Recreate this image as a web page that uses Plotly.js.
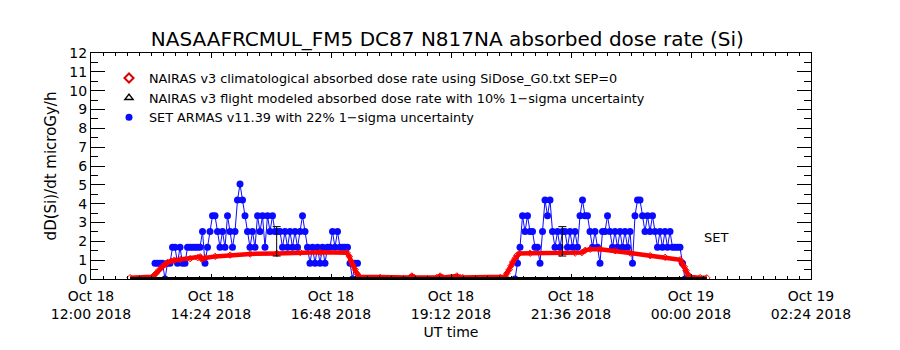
<!DOCTYPE html>
<html><head><meta charset="utf-8">
<script src="https://cdn.plot.ly/plotly-3.0.1.min.js"></script>
<style>html,body{margin:0;padding:0;background:#fff}#chart{width:900px;height:350px}</style>
</head><body><div id="chart"></div>
<script>
// ---------- DATA ----------
const chartTitle = 'NASAAFRCMUL_FM5 DC87 N817NA absorbed dose rate (Si)';
const xTitle = 'UT time';
const yTitle = 'dD(Si)/dt microGy/h';
const legendNames = [
  'NAIRAS v3 climatological absorbed dose rate using SiDose_G0.txt SEP=0',
  'NAIRAS v3 flight modeled absorbed dose rate with 10% 1\u2212sigma uncertainty',
  'SET ARMAS v11.39 with 22% 1\u2212sigma uncertainty'
];
const xRange = ['2018-10-18 12:00', '2018-10-19 02:24'];

// NAIRAS climatological (red diamonds)
const nairasClimTimes = [
  '2018-10-18 12:47','2018-10-18 13:13','2018-10-18 13:14','2018-10-18 13:18','2018-10-18 13:22',
  '2018-10-18 13:25','2018-10-18 13:29','2018-10-18 13:32','2018-10-18 13:36','2018-10-18 13:40',
  '2018-10-18 13:47','2018-10-18 13:59','2018-10-18 14:08','2018-10-18 14:11','2018-10-18 14:13',
  '2018-10-18 14:17','2018-10-18 14:29','2018-10-18 14:47','2018-10-18 15:11','2018-10-18 15:43',
  '2018-10-18 16:11','2018-10-18 16:35','2018-10-18 17:07','2018-10-18 17:10','2018-10-18 17:12',
  '2018-10-18 17:14','2018-10-18 17:17','2018-10-18 17:19','2018-10-18 17:22','2018-10-18 17:47',
  '2018-10-18 18:23','2018-10-18 18:25','2018-10-18 18:28','2018-10-18 18:55','2018-10-18 18:59',
  '2018-10-18 19:02','2018-10-18 19:19','2018-10-18 19:23','2018-10-18 19:26','2018-10-18 20:11',
  '2018-10-18 20:17','2018-10-18 20:19','2018-10-18 20:22','2018-10-18 20:24','2018-10-18 20:26',
  '2018-10-18 20:29','2018-10-18 20:31','2018-10-18 20:34','2018-10-18 20:47','2018-10-18 21:23',
  '2018-10-18 21:41','2018-10-18 21:49','2018-10-18 21:53','2018-10-18 21:59','2018-10-18 22:11',
  '2018-10-18 22:29','2018-10-18 22:47','2018-10-18 23:11','2018-10-18 23:29','2018-10-18 23:47',
  '2018-10-18 23:49','2018-10-18 23:52','2018-10-18 23:54','2018-10-18 23:56','2018-10-18 23:59',
  '2018-10-19 00:11','2018-10-19 00:19'
];
const nairasClimValues = [
  0.07,0.08,0.12,0.30,0.50,
  0.65,0.78,0.88,0.95,1.00,
  1.03,1.08,1.13,1.18,1.05,
  1.12,1.20,1.27,1.33,1.36,
  1.41,1.42,1.40,1.20,0.95,
  0.75,0.50,0.30,0.12,0.08,
  0.08,0.16,0.08,0.08,0.16,
  0.08,0.16,0.08,0.08,0.08,
  0.12,0.30,0.50,0.70,0.90,
  1.10,1.25,1.36,1.37,1.37,
  1.38,1.40,1.52,1.58,1.58,
  1.50,1.38,1.24,1.15,1.02,
  0.85,0.65,0.45,0.25,0.10,
  0.07,0.06
];

// NAIRAS flight modeled (black triangles) – all zero
const nairasFlightTimes = ['2018-10-18 12:47','2018-10-18 17:00','2018-10-18 21:00','2018-10-19 00:19'];
const nairasFlightValues = [0, 0, 0, 0];

// SET ARMAS (blue), 3-minute cadence, two flights
const armasCadenceMin = 3;
const armasStart1 = '2018-10-18T13:16:48';
const armasValues1 = [
  0.84,0.84,0.84,0.84,0,0.84,0.84,
  1.68,1.68,0.84,1.68,0.84,0.84,1.68,1.68,1.68,1.68,1.68,1.68,2.52,0.84,1.68,
  2.52,3.36,3.36,2.52,1.68,2.52,1.68,3.36,2.52,1.68,2.52,
  4.2,5.04,4.2,3.36,2.52,
  1.68,2.52,1.68,3.36,2.52,3.36,1.68,3.36,2.52,3.36,2.52,2.52,2.52,1.68,2.52,1.68,2.52,1.68,2.52,1.68,2.52,3.36,2.52,
  1.68,0.84,1.68,0.84,1.68,0.84,1.68,0.84,1.68,1.68,2.52,1.68,2.52,1.68,1.68,1.68,1.68,0.84,0,0.84,0.84
];
const armasStart2 = '2018-10-18T20:28:48';
const armasValues2 = [
  0,0.84,1.68,3.36,2.52,3.36,2.52,2.52,1.68,1.68,
  0.84,2.52,4.2,3.36,4.2,2.52,1.68,2.52,1.68,2.52,
  2.52,1.68,2.52,1.68,2.52,1.68,3.36,4.2,3.36,3.36,
  2.52,1.68,2.52,1.68,0.84,2.52,2.52,3.36,2.52,1.68,
  2.52,1.68,2.52,1.68,2.52,1.68,2.52,0.84,3.36,4.2,
  4.2,3.36,2.52,3.36,2.52,3.36,2.52,1.68,2.52,1.68,
  2.52,1.68,2.52,1.68,1.68,1.68,1.68,0.84,0
];

// sample 1-sigma error bars
const errTimes = ['2018-10-18 15:42:48', '2018-10-18 21:25:36'];
const errValues = [2.0, 2.0];
const errSigma = [0.78, 0.78];

// label
const setLabel = {text: 'SET', time: '2018-10-19 00:30', value: 2.18};

// ---------- BUILD ----------
function timesFrom(start, stepMin, n) {
  const t0 = Date.parse(start + 'Z');
  const out = [];
  for (let i = 0; i < n; i++) out.push(new Date(t0 + i * stepMin * 60000).toISOString().replace('T', ' ').slice(0, 19));
  return out;
}
const armasX = timesFrom(armasStart1, armasCadenceMin, armasValues1.length)
  .concat([null], timesFrom(armasStart2, armasCadenceMin, armasValues2.length));
const armasY = armasValues1.concat([null], armasValues2);

const FONT = 'DejaVu Sans, sans-serif';
const traces = [
  {x: armasX, y: armasY, type: 'scatter', mode: 'lines+markers', connectgaps: false, showlegend: false,
   line: {color: '#0a0aff', width: 1}, marker: {color: '#0a0aff', size: 7, symbol: 'circle'}},
  {x: nairasClimTimes, y: nairasClimValues, type: 'scatter', mode: 'lines+markers', showlegend: false,
   line: {color: '#ff0000', width: 4.5}, marker: {color: '#ff0000', size: 5, symbol: 'diamond-open', line: {width: 1}}},
  {x: nairasFlightTimes, y: nairasFlightValues, type: 'scatter', mode: 'lines', showlegend: false,
   line: {color: '#000000', width: 4}},
  {x: errTimes, y: errValues, type: 'scatter', mode: 'markers', showlegend: false,
   marker: {size: 1, color: 'rgba(0,0,0,0)'},
   error_y: {type: 'data', array: errSigma, visible: true, color: '#000', thickness: 1, width: 4}},
  // legend entries
  {x: [null], y: [null], type: 'scatter', mode: 'markers', name: legendNames[0], legendgroup: 'a',
   marker: {symbol: 'diamond-open', size: 7, color: '#dd0000', line: {width: 2}}},
  {x: [null], y: [null], type: 'scatter', mode: 'markers', name: legendNames[1], legendgroup: 'b',
   marker: {symbol: 'triangle-up-open', size: 7, color: '#000', line: {width: 1.5}}},
  {x: [null], y: [null], type: 'scatter', mode: 'markers', name: legendNames[2], legendgroup: 'c',
   marker: {symbol: 'circle', size: 7, color: '#0a0aff'}}
];

const layout = {
  width: 900, height: 350,
  margin: {l: 91, r: 89, t: 53, b: 71, pad: 0},
  paper_bgcolor: '#fff', plot_bgcolor: '#fff',
  font: {family: FONT, color: '#000', size: 13},
  title: {text: chartTitle, font: {family: FONT, size: 20, color: '#000'}, x: 0.497, xanchor: 'center', y: 0.89, yanchor: 'middle'},
  showlegend: true,
  legend: {x: 0.025, y: 0.955, xanchor: 'left', yanchor: 'top', bgcolor: 'rgba(0,0,0,0)', borderwidth: 0,
           font: {family: FONT, size: 12.8, color: '#000'}, tracegroupgap: 1, itemwidth: 30, traceorder: 'normal'},
  xaxis: {
    type: 'date', range: xRange, autorange: false,
    tick0: '2018-10-18 12:00', dtick: 8640000,
    tickformat: '%b %d<br>%H:%M %Y',
    ticks: 'inside', ticklen: 5, tickcolor: '#000', tickwidth: 1,
    minor: {dtick: 864000, tick0: '2018-10-18 12:00', ticks: 'inside', ticklen: 3, tickcolor: '#000', showgrid: false},
    showline: true, linecolor: '#000', linewidth: 1, mirror: 'allticks',
    showgrid: false, zeroline: false,
    tickfont: {family: FONT, size: 14, color: '#000'},
    ticklabelstandoff: 4,
    title: {text: xTitle, font: {family: FONT, size: 14, color: '#000'}, standoff: 6}
  },
  yaxis: {
    range: [0, 12], autorange: false, dtick: 1, tick0: 0,
    ticks: 'inside', ticklen: 14, tickcolor: '#000', tickwidth: 1,
    minor: {dtick: 0.5, ticks: 'inside', ticklen: 7, tickcolor: '#000', showgrid: false},
    showline: true, linecolor: '#000', linewidth: 1, mirror: 'allticks',
    showgrid: false, zeroline: false,
    tickfont: {family: FONT, size: 14, color: '#000'},
    title: {text: yTitle, font: {family: FONT, size: 15, color: '#000'}, standoff: 9}
  },
  annotations: [
    {x: setLabel.time, y: setLabel.value, xref: 'x', yref: 'y', text: setLabel.text, showarrow: false,
     font: {family: FONT, size: 13, color: '#000'}}
  ]
};

Plotly.newPlot('chart', traces, layout, {displayModeBar: false, staticPlot: true});
</script></body></html>
